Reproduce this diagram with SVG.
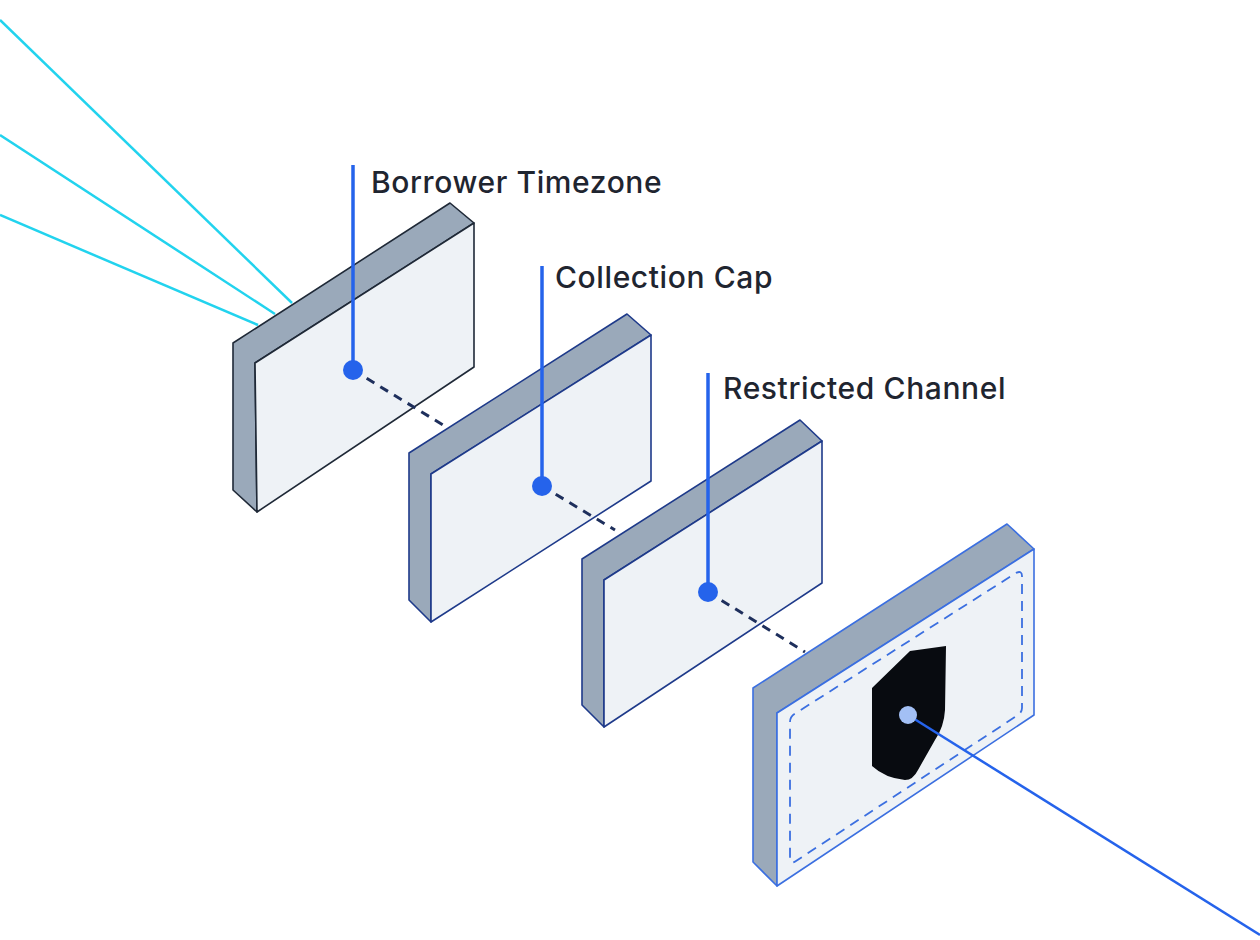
<svg xmlns="http://www.w3.org/2000/svg" width="1260" height="940" viewBox="0 0 1260 940">
<style>
.side{fill:#9aa9ba}
.face{fill:#eef2f6}
.p1{stroke:#1f2937;stroke-width:1.6;stroke-linejoin:round}
.p2{stroke:#1e3a8a;stroke-width:1.6;stroke-linejoin:round}
.p4{stroke:#3b6fe0;stroke-width:1.6;stroke-linejoin:round}
.lbl{font-family:"Inter","Liberation Sans",sans-serif;font-size:30px;font-weight:500;letter-spacing:0.6px;fill:#1f2530}
.vl{stroke:#2563eb;stroke-width:3.5}
.dot{fill:#2563eb}
.cy{stroke:#22d3ee;stroke-width:2.5}
.dash{stroke:#1e2f5c;stroke-width:3;stroke-dasharray:9 7}
</style>
<rect width="1260" height="940" fill="#fff"/>
<g id="panel1">
<path class="side p1" d="M233,343 L450,203 L474,223 L255,363 L257,512 L233,490 Z"/>
<path class="face p1" d="M255,363 L474,223 L474,367 L257,512 Z"/>
</g>
<g id="panel2">
<path class="side p2" d="M409,453 L627,314 L651,335 L431,474 L431,622 L409,600 Z"/>
<path class="face p2" d="M431,474 L651,335 L651,481 L431,622 Z"/>
</g>
<g id="panel3">
<path class="side p2" d="M582,559 L800,420 L822,441 L604,580 L604,727 L582,705 Z"/>
<path class="face p2" d="M604,580 L822,441 L822,583 L604,727 Z"/>
</g>
<g id="panel4">
<path class="side p4" d="M753,688 L1007,524 L1034,549 L777,713 L777,886 L753,862 Z"/>
<path class="face p4" d="M777,713 L1034,549 L1034,715 L777,886 Z"/>
<path d="M790,722 Q790,716 796,713 L1016,573 Q1022,570 1022,576 L1022,708 Q1022,712 1018,715 L796,861 Q790,865 790,859 Z" fill="none" stroke="#3b6fe0" stroke-width="1.8" stroke-dasharray="10 7"/>
<path d="M872,688 L910,651 L946,646 L945,710 Q944,727 935,740 L918,770 Q913,780 905,780 Q885,778 872,766 Z" fill="#080b10"/>
</g>
<g id="connectors" fill="none">
<line class="cy" x1="0" y1="20" x2="292" y2="303"/>
<line class="cy" x1="0" y1="135" x2="275" y2="314"/>
<line class="cy" x1="0" y1="215" x2="258" y2="325"/>
<line class="dash" x1="353" y1="370" x2="448" y2="428"/>
<line class="dash" x1="542" y1="486" x2="615" y2="530" stroke-dasharray="7 5"/>
<line class="dash" x1="708" y1="592" x2="805" y2="652" stroke-dasharray="7 5"/>
<line class="vl" x1="353" y1="165" x2="353" y2="370"/>
<line class="vl" x1="542" y1="266" x2="542" y2="486"/>
<line class="vl" x1="708" y1="373" x2="708" y2="592"/>
<circle class="dot" cx="353" cy="370" r="10"/>
<circle class="dot" cx="542" cy="486" r="10"/>
<circle class="dot" cx="708" cy="592" r="10"/>
<line x1="908" y1="715" x2="1260" y2="935" stroke="#2563eb" stroke-width="2.5"/>
<circle cx="908" cy="715" r="9" fill="#a3c0f5"/>
</g>
<g id="labels">
<text class="lbl" x="371" y="193">Borrower Timezone</text>
<text class="lbl" x="555" y="288">Collection Cap</text>
<text class="lbl" x="723" y="399">Restricted Channel</text>
</g>
</svg>
